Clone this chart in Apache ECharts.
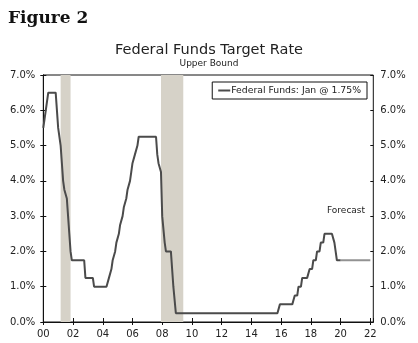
<!DOCTYPE html>
<html><head><meta charset="utf-8">
<script src="https://cdn.jsdelivr.net/npm/echarts@6/dist/echarts.min.js"></script>
<style>html,body{margin:0;padding:0;background:#fff}#c{width:418px;height:343px}</style>
</head><body><div id="c"></div>
<script>
// Federal funds target rate (upper bound), end of month, Jan 2000 .. Jan 2020
const startYear = 2000;
const fedFundsMonthly = [
  5.5,5.75,6,6,6.5,6.5,6.5,6.5,6.5,6.5,6.5,6.5,            // 2000
  5.5,5.5,5,4.5,4,3.75,3.75,3.5,3,2.5,2,1.75,              // 2001
  1.75,1.75,1.75,1.75,1.75,1.75,1.75,1.75,1.75,1.75,1.25,1.25, // 2002
  1.25,1.25,1.25,1.25,1.25,1,1,1,1,1,1,1,                  // 2003
  1,1,1,1,1,1.25,1.25,1.5,1.75,1.75,2,2.25,                // 2004
  2.25,2.5,2.75,2.75,3,3.25,3.25,3.5,3.75,3.75,4,4.25,     // 2005
  4.5,4.5,4.75,4.75,5,5.25,5.25,5.25,5.25,5.25,5.25,5.25,  // 2006
  5.25,5.25,5.25,5.25,5.25,5.25,5.25,5.25,4.75,4.5,4.5,4.25, // 2007
  3,3,2.25,2,2,2,2,2,2,1,1,0.25,                           // 2008
  0.25,0.25,0.25,0.25,0.25,0.25,0.25,0.25,0.25,0.25,0.25,0.25, // 2009
  0.25,0.25,0.25,0.25,0.25,0.25,0.25,0.25,0.25,0.25,0.25,0.25, // 2010
  0.25,0.25,0.25,0.25,0.25,0.25,0.25,0.25,0.25,0.25,0.25,0.25, // 2011
  0.25,0.25,0.25,0.25,0.25,0.25,0.25,0.25,0.25,0.25,0.25,0.25, // 2012
  0.25,0.25,0.25,0.25,0.25,0.25,0.25,0.25,0.25,0.25,0.25,0.25, // 2013
  0.25,0.25,0.25,0.25,0.25,0.25,0.25,0.25,0.25,0.25,0.25,0.25, // 2014
  0.25,0.25,0.25,0.25,0.25,0.25,0.25,0.25,0.25,0.25,0.25,0.5,  // 2015
  0.5,0.5,0.5,0.5,0.5,0.5,0.5,0.5,0.5,0.5,0.5,0.75,            // 2016
  0.75,0.75,1,1,1,1.25,1.25,1.25,1.25,1.25,1.25,1.5,           // 2017
  1.5,1.5,1.75,1.75,1.75,2,2,2,2.25,2.25,2.25,2.5,             // 2018
  2.5,2.5,2.5,2.5,2.5,2.5,2.5,2.25,2,1.75,1.75,1.75,           // 2019
  1.75                                                         // Jan 2020
];
const forecastMonths = ['2020-01','2020-04','2020-07','2020-10','2021-01','2021-04','2021-07','2021-10','2022-01'];
const forecastValues = [1.75,1.75,1.75,1.75,1.75,1.75,1.75,1.75,1.75];
const recessionStart = ['2001-03','2007-12'];
const recessionEnd = ['2001-11','2009-06'];
const xTickLabels = ['00','02','04','06','08','10','12','14','16','18','20','22'];
const yTickLabels = ['0.0%','1.0%','2.0%','3.0%','4.0%','5.0%','6.0%','7.0%'];
const seriesName = 'Federal Funds: Jan @ 1.75%';

function ym(s){ const p = s.split('-'); return (+p[0] - startYear) + (+p[1] - 1) / 12; }

const actualData = fedFundsMonthly.map((v, i) => [i / 12, v]);
const forecastData = forecastMonths.map((m, i) => [ym(m), forecastValues[i]]);
const bands = recessionStart.map((s, i) => [{xAxis: ym(s)}, {xAxis: ym(recessionEnd[i])}]);

const FONT = 'DejaVu Sans';
const xFmt = v => (Number.isInteger(v) && v % 2 === 0) ? (xTickLabels[v / 2] || '') : '';
const yFmt = v => Number.isInteger(v) ? (yTickLabels[v] || '') : '';

const chart = echarts.init(document.getElementById('c'), null, {renderer: 'canvas'});
chart.setOption({
  animation: false,
  backgroundColor: '#fff',
  title: [
    {text: 'Figure 2', left: 8, top: 10, padding: 0,
     textStyle: {fontFamily: 'DejaVu Serif', fontWeight: 'bold', fontSize: 17, color: '#111'}},
    {text: 'Federal Funds Target Rate', left: 'center', top: 43, padding: 0,
     textStyle: {fontFamily: FONT, fontWeight: 'normal', fontSize: 14.5, color: '#222'}},
    {text: 'Upper Bound', left: 'center', top: 59.5, padding: 0,
     textStyle: {fontFamily: FONT, fontWeight: 'normal', fontSize: 9, color: '#222'}}
  ],
  legend: {
    data: [seriesName], right: 51, top: 82, orient: 'horizontal',
    padding: [4, 6], borderColor: '#111', borderWidth: 1, backgroundColor: '#fff',
    icon: 'rect', itemWidth: 12, itemHeight: 2,
    textStyle: {fontFamily: FONT, fontSize: 9.3, color: '#222', padding: [0, 0, 0, -4]}
  },
  grid: {left: 43.3, right: 44.7, top: 75, bottom: 21, show: true, borderColor: '#111', borderWidth: 1, backgroundColor: 'transparent'},
  xAxis: [
    {type: 'value', min: 0, max: 22.2, interval: 2, position: 'bottom',
     axisLine: {lineStyle: {color: '#111'}}, splitLine: {show: false},
     axisTick: {show: true, inside: false, length: 3, lineStyle: {color: '#111'}},
     axisLabel: {formatter: xFmt, fontFamily: FONT, fontSize: 10, color: '#222', margin: 7, showMaxLabel: false}},
    {type: 'value', min: 0, max: 22.2, interval: 2, position: 'bottom',
     axisLine: {show: false}, splitLine: {show: false},
     axisTick: {show: true, inside: true, length: 4, lineStyle: {color: '#111'}},
     axisLabel: {show: false}}
  ],
  yAxis: [
    {type: 'value', min: 0, max: 7, interval: 1, position: 'left',
     axisLine: {show: true, lineStyle: {color: '#111'}}, splitLine: {show: false},
     axisTick: {show: true, inside: false, length: 3, lineStyle: {color: '#111'}},
     axisLabel: {formatter: yFmt, fontFamily: FONT, fontSize: 10, color: '#222', margin: 8}},
    {type: 'value', min: 0, max: 7, interval: 1, position: 'right',
     axisLine: {show: true, lineStyle: {color: '#111'}}, splitLine: {show: false},
     axisTick: {show: true, inside: false, length: 3, lineStyle: {color: '#111'}},
     axisLabel: {formatter: yFmt, fontFamily: FONT, fontSize: 10, color: '#222', margin: 7}},
    {type: 'value', min: 0, max: 7, interval: 1, position: 'right',
     axisLine: {show: false}, splitLine: {show: false},
     axisTick: {show: true, inside: true, length: 3, lineStyle: {color: '#111'}},
     axisLabel: {show: false}}
  ],
  series: [
    {name: 'Forecast', type: 'line', data: forecastData, showSymbol: false, symbol: 'none',
     lineStyle: {color: '#929292', width: 2}, z: 3},
    {name: seriesName, type: 'line', data: actualData, showSymbol: false, symbol: 'none',
     itemStyle: {color: '#4b4b4b'},
     lineStyle: {color: '#4b4b4b', width: 2}, z: 4,
     markArea: {silent: true, itemStyle: {color: '#d6d2c8'}, data: bands}}
  ],
  graphic: [
    {type: 'text', left: 327, top: 206,
     style: {text: 'Forecast', fontFamily: FONT, fontSize: 9, fill: '#222'}}
  ]
});
</script>
</body></html>
